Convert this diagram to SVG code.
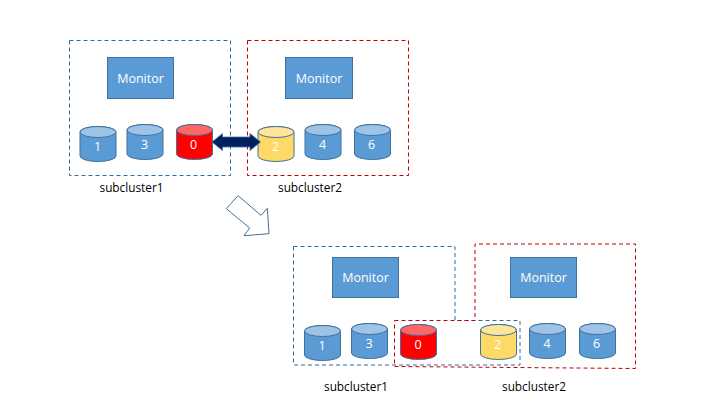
<svg xmlns="http://www.w3.org/2000/svg" width="720" height="405" viewBox="0 0 720 405">
<style>
text{font-family:"Open Sans","Noto Sans","Liberation Sans",sans-serif}
.mon{fill:#5b9bd5;stroke:#41719c;stroke-width:1}
.lb{fill:#fff;font-size:12.5px;text-anchor:middle}
.n{fill:#fff;font-size:12.5px;text-anchor:middle}
.cap{fill:#000;font-size:11.8px;text-anchor:middle}
.blue{fill:none;stroke:#2e6c9e;stroke-width:1;stroke-dasharray:4 3}
.red{fill:none;stroke:#c00000;stroke-width:1;stroke-dasharray:4 3}
.c{stroke:#41719c;stroke-width:1}
.cb{fill:#5b9bd5}.cbt{fill:#9dc3e6}
.cr{fill:#ff0000}.crt{fill:#ff6666}
.cy{fill:#ffd966}.cyt{fill:#ffe599}
</style>
<defs>
<g id="cyl-b"><path class="c cb" d="M0 5.5A18 5.5 0 0 1 36 5.5V29.5A18 5.5 0 0 1 0 29.5Z"/><ellipse class="c cbt" cx="18" cy="5.5" rx="18" ry="5.5"/></g>
<g id="cyl-r"><path class="c cr" d="M0 5.5A18 5.5 0 0 1 36 5.5V29.5A18 5.5 0 0 1 0 29.5Z"/><ellipse class="c crt" cx="18" cy="5.5" rx="18" ry="5.5"/></g>
<g id="cyl-y"><path class="c cy" d="M0 5.500A18 5.500 0 0 1 36 5.500V29.500A18 5.500 0 0 1 0 29.500Z"/><ellipse class="c cyt" cx="18" cy="5.500" rx="18" ry="5.500"/></g>
</defs>
<g id="subcluster1-top-frame"><rect class="blue" x="69.5" y="40.5" width="161" height="135"/></g>
<g id="subcluster2-top-frame"><rect class="red" x="247.5" y="40.5" width="161" height="135"/></g>
<g id="monitor-top-1"><rect class="mon" x="107.5" y="57.5" width="66" height="41"/><text class="lb" x="140.5" y="83">Monitor</text></g>
<g id="monitor-top-2"><rect class="mon" x="285.5" y="57.5" width="67" height="41"/><text class="lb" x="319" y="83">Monitor</text></g>
<g id="disk-top-1"><use href="#cyl-b" x="80" y="126.5"/><text class="n" x="97.500" y="151">1</text></g>
<g id="disk-top-3"><use href="#cyl-b" x="127" y="124.5"/><text class="n" x="144.500" y="149">3</text></g>
<g id="disk-top-0"><use href="#cyl-r" x="176.500" y="124.500"/><text class="n" x="193.500" y="149">0</text></g>
<g id="disk-top-2"><use href="#cyl-y" x="258" y="126.500"/><text class="n" x="275.500" y="151">2</text></g>
<g id="disk-top-4"><use href="#cyl-b" x="305" y="124.500"/><text class="n" x="322.500" y="149">4</text></g>
<g id="disk-top-6"><use href="#cyl-b" x="354.500" y="124.500"/><text class="n" x="371.500" y="149">6</text></g>
<g id="connectors">
<path d="M212 142L222.500 133.500V137H250V133.500L260.500 142L250 150.500V147H222.500V150.500Z" fill="#002060" stroke="#41719c" stroke-width="0.800"/>
<path d="M238 195.700L261 215.300L267.300 208.300L269 233.700L244 235.700L249.700 228L226.300 208.700Z" fill="#fff" stroke="#41719c" stroke-width="1"/>
</g>
<g id="label-top-1"><text class="cap" x="131.500" y="192">subcluster1</text></g>
<g id="label-top-2"><text class="cap" x="310" y="192">subcluster2</text></g>
<g id="subcluster1-bottom-frame"><path class="blue" d="M293.500 246.500H455V320.500H520V365H293.500Z"/></g>
<g id="subcluster2-bottom-frame"><path class="red" d="M394.500 320.500H475V244H635.500V368.500L394.500 366.500Z"/></g>
<g id="monitor-bottom-1"><rect class="mon" x="332.500" y="257.500" width="66" height="40"/><text class="lb" x="365.500" y="282">Monitor</text></g>
<g id="monitor-bottom-2"><rect class="mon" x="510.500" y="257.500" width="66" height="40"/><text class="lb" x="543.500" y="282">Monitor</text></g>
<g id="disk-bottom-1"><use href="#cyl-b" x="304.500" y="325.500"/><text class="n" x="322" y="349.500">1</text></g>
<g id="disk-bottom-3"><use href="#cyl-b" x="351.500" y="323.500"/><text class="n" x="369" y="348">3</text></g>
<g id="disk-bottom-0"><use href="#cyl-r" x="400.500" y="324.500"/><text class="n" x="418" y="349">0</text></g>
<g id="disk-bottom-2"><use href="#cyl-y" x="480.500" y="324.500"/><text class="n" x="497.500" y="349">2</text></g>
<g id="disk-bottom-4"><use href="#cyl-b" x="529.500" y="323.500"/><text class="n" x="547" y="348">4</text></g>
<g id="disk-bottom-6"><use href="#cyl-b" x="579.500" y="323.500"/><text class="n" x="596.500" y="348">6</text></g>
<g id="label-bottom-1"><text class="cap" x="356" y="391">subcluster1</text></g>
<g id="label-bottom-2"><text class="cap" x="534" y="391">subcluster2</text></g>
</svg>
